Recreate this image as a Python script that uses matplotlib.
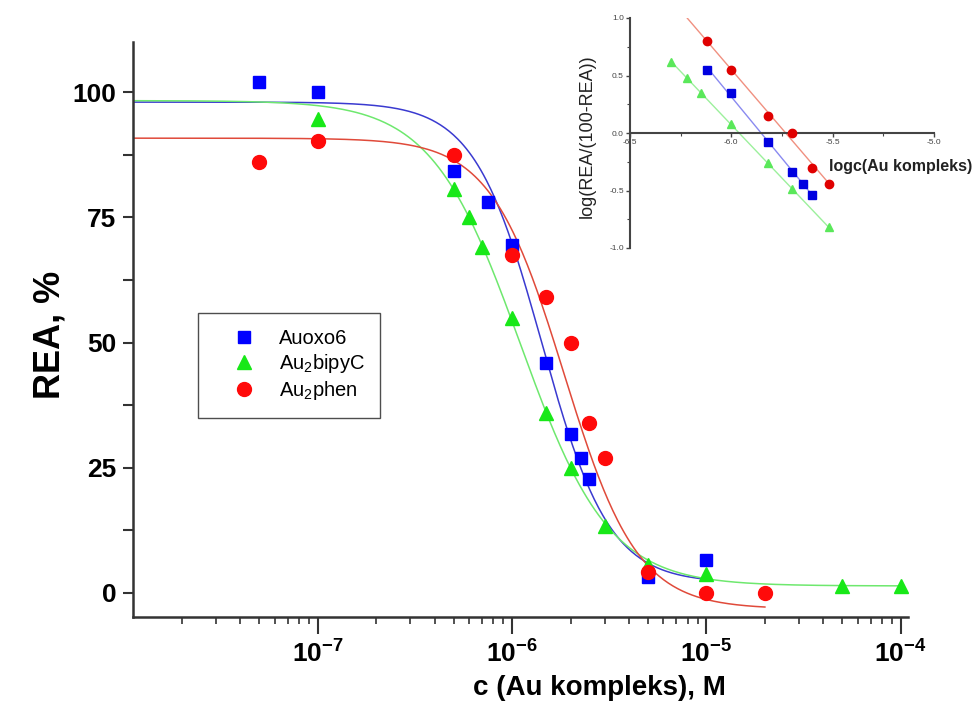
import numpy as np
import matplotlib
matplotlib.use("Agg")
import matplotlib.pyplot as plt
from matplotlib.ticker import FuncFormatter, LogLocator, MultipleLocator, NullFormatter

plt.rcParams["font.family"] = ["Liberation Sans", "DejaVu Sans"]
plt.rcParams["mathtext.fontset"] = "custom"
plt.rcParams["mathtext.rm"] = "Liberation Sans"
plt.rcParams["mathtext.bf"] = "Liberation Sans:bold"
plt.rcParams["mathtext.it"] = "Liberation Sans:italic"

# --- main plot data: REA (%) vs concentration (M)
auoxo6_c = [5e-8, 1e-7, 5e-7, 7.5e-7, 1e-6, 1.5e-6, 2e-6, 2.25e-6, 2.5e-6, 5e-6, 1e-5]
auoxo6_rea = [102, 100, 84.3, 78, 69.5, 46, 31.8, 27, 22.7, 3.2, 6.5]
bipy_c = [1e-7, 5e-7, 6e-7, 7e-7, 1e-6, 1.5e-6, 2e-6, 3e-6, 5e-6, 1e-5, 5e-5, 1e-4]
bipy_rea = [94.6, 80.7, 75.1, 69.1, 54.8, 36, 24.9, 13.3, 5.5, 3.8, 1.4, 1.4]
phen_c = [5e-8, 1e-7, 5e-7, 1e-6, 1.5e-6, 2e-6, 2.5e-6, 3e-6, 5e-6, 1e-5, 2e-5]
phen_rea = [86.1, 90.2, 87.5, 67.5, 59, 50, 34, 27, 4.2, 0, 0]

# logistic fit parameters: top, bottom, x0, power, last c
auoxo6_fit = [98.0, 2.0, 1.42e-6, 2.5, 1e-5]
bipy_fit = [98.3, 1.4, 1.1e-6, 1.9, 1e-4]
phen_fit = [90.8, -3.2, 1.85e-6, 2.3, 2e-5]

# --- inset data: log(REA/(100-REA)) vs log c
ins_auoxo6_x = [-6.12, -6.0, -5.82, -5.70, -5.645, -5.60]
ins_auoxo6_y = [0.55, 0.35, -0.08, -0.34, -0.44, -0.54]
ins_bipy_x = [-6.30, -6.22, -6.15, -6.0, -5.82, -5.70, -5.52]
ins_bipy_y = [0.62, 0.48, 0.35, 0.08, -0.26, -0.49, -0.82]
ins_phen_x = [-6.12, -6.0, -5.82, -5.70, -5.60, -5.52]
ins_phen_y = [0.80, 0.55, 0.15, 0.0, -0.30, -0.44]
ins_line_ranges = {"auoxo6": (-6.12, -5.60), "bipy": (-6.30, -5.52), "phen": (-6.30, -5.52)}

BLUE = "#0000ff"
GREEN = "#18e818"
RED = "#ff0a0a"
SPINE = "#333333"


def logistic(c, top, bottom, x0, p):
    return bottom + (top - bottom) / (1.0 + (c / x0) ** p)


fig = plt.figure(figsize=(9.73, 7.04), dpi=100)
ax = fig.add_axes([133 / 973, 1 - 617 / 704, 775 / 973, 575 / 704])
ax.set_xscale("log")
ax.set_xlim(1.12e-8, 1.09e-4)
ax.set_ylim(-4.8, 110)

c_start = 1.12e-8
for fit, col in [(auoxo6_fit, "#3a3ad0"), (bipy_fit, "#6ee86e"), (phen_fit, "#e04a3a")]:
    cc = np.logspace(np.log10(c_start), np.log10(fit[4]), 400)
    ax.plot(cc, logistic(cc, *fit[:4]), color=col, lw=1.1, zorder=2)

ax.plot(auoxo6_c, auoxo6_rea, ls="none", marker="s", ms=8.5, color=BLUE, label="Auoxo6", zorder=3)
ax.plot(bipy_c, bipy_rea, ls="none", marker="^", ms=10, color=GREEN, label="Au$_2$bipyC", zorder=3)
ax.plot(phen_c, phen_rea, ls="none", marker="o", ms=10, color=RED, label="Au$_2$phen", zorder=3)

for s in ["top", "right"]:
    ax.spines[s].set_visible(False)
for s in ["left", "bottom"]:
    ax.spines[s].set_linewidth(1.8)
    ax.spines[s].set_color(SPINE)

ax.yaxis.set_major_locator(MultipleLocator(25))
ax.yaxis.set_minor_locator(MultipleLocator(12.5))
ax.xaxis.set_major_locator(LogLocator(base=10, numticks=10))
ax.xaxis.set_minor_locator(LogLocator(base=10, subs=np.arange(2, 10), numticks=20))
ax.xaxis.set_minor_formatter(NullFormatter())
ax.xaxis.set_major_formatter(FuncFormatter(lambda v, _: r"$\mathbf{10^{%d}}$" % round(np.log10(v))))

ax.tick_params(axis="x", which="major", direction="out", length=12, width=1.5, color=SPINE,
               labelsize=19, pad=5)
ax.tick_params(axis="x", which="minor", direction="out", length=5, width=1.2, color=SPINE)
ax.tick_params(axis="y", which="both", direction="out", length=7, width=1.5, color=SPINE,
               labelsize=19, pad=5)
for lab in ax.get_yticklabels():
    lab.set_fontweight("bold")

fig.text(50 / 973, 1 - 335 / 704, "REA, %", rotation=90, fontsize=26, fontweight="bold",
         ha="center", va="center")
fig.text(599 / 973, 1 - 688 / 704, "c (Au kompleks), M", fontsize=20, fontweight="bold",
         ha="center", va="center")

leg = ax.legend(loc="upper left", bbox_to_anchor=((198 - 133) / 775, (617 - 313) / 575),
                fontsize=14.5, frameon=True, fancybox=False, handlelength=3.0,
                handletextpad=0.2, borderpad=0.8, labelspacing=0.2, borderaxespad=0)
leg.get_frame().set_edgecolor("#222222")
leg.get_frame().set_linewidth(1.0)

# --- inset
ins = fig.add_axes([630 / 973, 1 - 248 / 704, 304 / 973, 230 / 704])
ins.set_facecolor("none")
ins.set_xlim(-6.5, -5.0)
ins.set_ylim(-1.0, 1.0)

ins_series = [
    (ins_auoxo6_x, ins_auoxo6_y, "auoxo6", "s", "#0000e0", "#8a8af0"),
    (ins_bipy_x, ins_bipy_y, "bipy", "^", "#5ae85a", "#9cf09c"),
    (ins_phen_x, ins_phen_y, "phen", "o", "#e00000", "#f09080"),
]
for xs, ys, key, mk, mcol, lcol in ins_series:
    k, b = np.polyfit(xs, ys, 1)
    lx = np.array(ins_line_ranges[key])
    ins.plot(lx, k * lx + b, color=lcol, lw=1.0, zorder=2)
    ins.plot(xs, ys, ls="none", marker=mk, ms=6, color=mcol, zorder=3)

ins.spines["top"].set_visible(False)
ins.spines["right"].set_visible(False)
ins.spines["bottom"].set_position(("data", 0))
for s in ["left", "bottom"]:
    ins.spines[s].set_linewidth(1.5)
    ins.spines[s].set_color("#444444")
ins.xaxis.set_major_locator(MultipleLocator(0.5))
ins.xaxis.set_minor_locator(MultipleLocator(0.25))
ins.yaxis.set_major_locator(MultipleLocator(0.5))
ins.yaxis.set_minor_locator(MultipleLocator(0.25))
ins.xaxis.set_major_formatter(FuncFormatter(lambda v, _: "%.1f" % v))
ins.yaxis.set_major_formatter(FuncFormatter(lambda v, _: "%.1f" % v))
ins.tick_params(which="major", direction="out", length=3, width=1.0, color="#444444",
                labelsize=6, labelcolor="#444444", pad=1.5)
ins.tick_params(which="minor", direction="out", length=2, width=0.8, color="#444444")

fig.text(972 / 973, 1 - 167 / 704, "logc(Au kompleks)", fontsize=11.5, fontweight="bold",
         ha="right", va="center", color="#222222")
fig.text(587 / 973, 1 - 136 / 704, "log(REA/(100-REA))", rotation=90, fontsize=13,
         ha="center", va="center", color="#222222")

fig.savefig("out.png", dpi=100)
